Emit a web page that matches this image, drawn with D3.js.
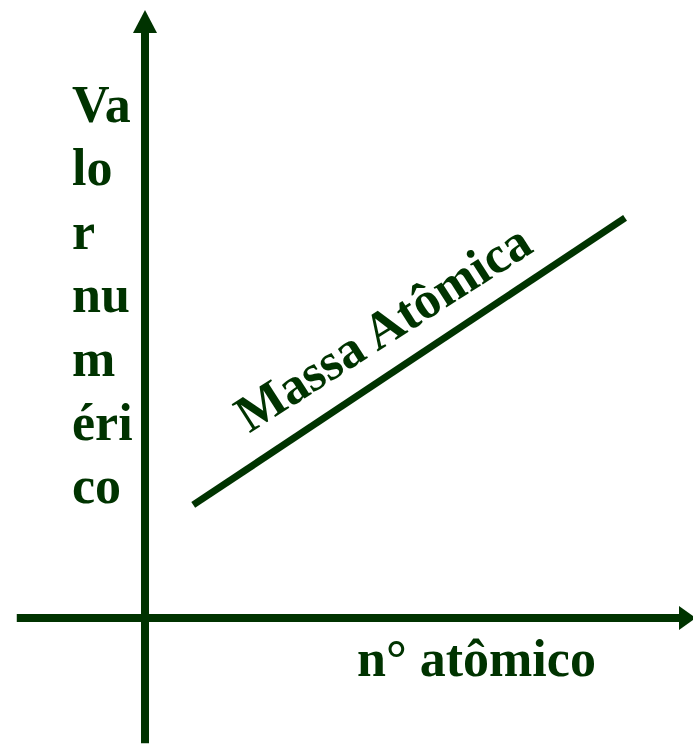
<!DOCTYPE html>
<html>
<head>
<meta charset="utf-8">
<script src="https://cdn.jsdelivr.net/npm/d3@7"></script>
<style>
  html, body { margin: 0; padding: 0; background: #ffffff; }
  svg { display: block; }
</style>
</head>
<body>
<script>
// Schematic: atomic mass grows with atomic number
const lineLabel = "Massa Atômica";
const xLabel = "n° atômico";
const yLabelRows = ["Va", "lo", "r", "nu", "m", "éri", "co"];

// Straight trend (two end points, in axis units 0..100)
const trendX = [8.8, 87.6];
const trendY = [18.6, 65.8];

// Axis extents (axis units); the positive ends carry arrowheads
const xAxisExtent = [-23.4, 100];
const yAxisExtent = [-20.6, 100];

const W = 693, H = 744;
const ink = "#003300";
const fontSize = 52;

const svg = d3.select("body").append("svg")
  .attr("width", W).attr("height", H);

const x = d3.scaleLinear().domain([0, 100]).range([145, 693]);
const y = d3.scaleLinear().domain([0, 100]).range([618, 10]);

// Axes
const axes = svg.append("g").attr("stroke", ink).attr("stroke-width", 8);
axes.append("line")
  .attr("x1", x(xAxisExtent[0])).attr("x2", x(xAxisExtent[1]) - 12)
  .attr("y1", y(0)).attr("y2", y(0));
axes.append("line")
  .attr("x1", x(0)).attr("x2", x(0))
  .attr("y1", y(yAxisExtent[0])).attr("y2", y(yAxisExtent[1]) + 20);

// Arrowheads
const tipX = [x(xAxisExtent[1]) + 3, y(0)];
svg.append("path")
  .attr("fill", ink)
  .attr("d", `M${tipX[0]},${tipX[1]} L${tipX[0] - 17},${tipX[1] - 12} L${tipX[0] - 17},${tipX[1] + 12} Z`);
const tipY = [x(0), y(yAxisExtent[1])];
svg.append("path")
  .attr("fill", ink)
  .attr("d", `M${tipY[0]},${tipY[1]} L${tipY[0] - 12},${tipY[1] + 23} L${tipY[0] + 12},${tipY[1] + 23} Z`);

// Trend line
const pts = trendX.map((v, i) => [x(v), y(trendY[i])]);
svg.append("path")
  .attr("d", d3.line()(pts))
  .attr("stroke", ink).attr("stroke-width", 7).attr("fill", "none");

const font = "'Liberation Serif', 'Times New Roman', serif";

// Label running above the trend line
const [p0, p1] = pts;
const lineAngle = Math.atan2(p0[1] - p1[1], p1[0] - p0[0]) * 180 / Math.PI;
const t0 = 0.13;
const lx = p0[0] + (p1[0] - p0[0]) * t0;
const ly = p0[1] + (p1[1] - p0[1]) * t0 - 34;
svg.append("text")
  .attr("transform", `translate(${lx},${ly}) rotate(${-(lineAngle - 1)})`)
  .attr("font-family", font).attr("font-weight", "bold")
  .attr("font-size", fontSize).attr("fill", ink)
  .text(lineLabel);

// X axis title
svg.append("text")
  .attr("x", 357).attr("y", 676)
  .attr("font-family", font).attr("font-weight", "bold")
  .attr("font-size", fontSize).attr("fill", ink)
  .text(xLabel);

// Y axis title, broken into stacked rows
svg.append("g").selectAll("text").data(yLabelRows).join("text")
  .attr("x", 72)
  .attr("y", (d, i) => 121.5 + i * 63.6)
  .attr("font-family", font).attr("font-weight", "bold")
  .attr("font-size", fontSize).attr("fill", ink)
  .text(d => d);
</script>
</body>
</html>
